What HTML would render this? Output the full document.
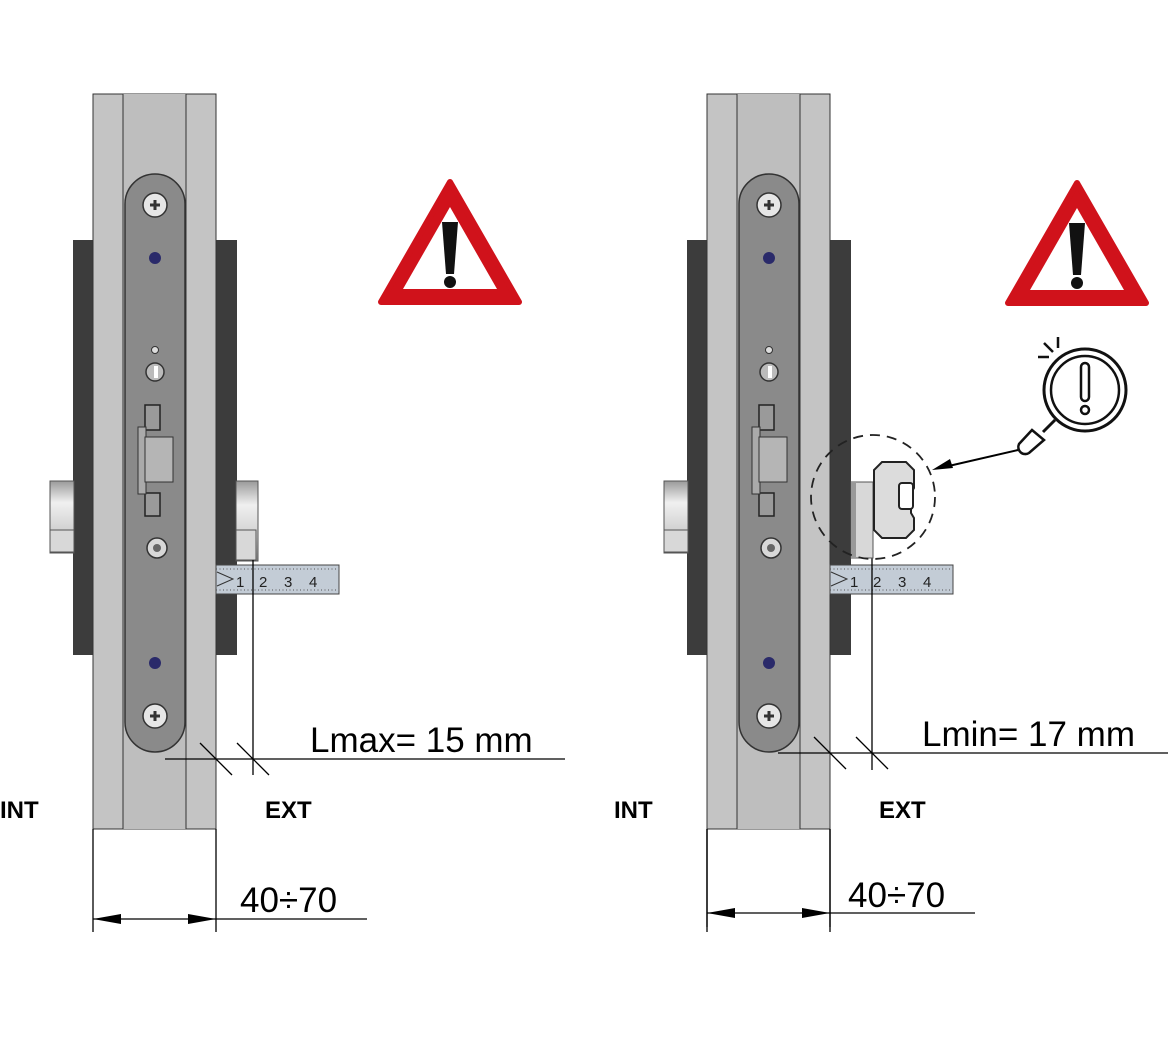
<!DOCTYPE html>
<html><head><meta charset="utf-8"><style>
html,body{margin:0;padding:0;background:#fff;}
svg{display:block;}
text{font-family:"Liberation Sans",Arial,sans-serif;}
</style></head><body>
<svg width="1170" height="1043" viewBox="0 0 1170 1043" xmlns="http://www.w3.org/2000/svg">
<defs>
<linearGradient id="cyl" x1="0" y1="0" x2="0" y2="1">
<stop offset="0" stop-color="#9a9a9a"/><stop offset="0.3" stop-color="#f0f0f0"/><stop offset="0.7" stop-color="#d0d0d0"/><stop offset="1" stop-color="#8a8a8a"/>
</linearGradient>
<g id="panel">
  <rect x="73" y="240" width="164" height="415" fill="#3c3c3c"/>
  <rect x="50" y="481" width="24" height="72" fill="url(#cyl)" stroke="#555" stroke-width="1"/>
  <rect x="50" y="530" width="24" height="22" fill="#d8d8d8" stroke="#555" stroke-width="1"/>
  <rect x="93" y="94" width="123" height="735" fill="#c4c4c4" stroke="#333" stroke-width="1"/>
  <rect x="123" y="94" width="63" height="735" fill="#bebebe"/>
  <line x1="123" y1="94" x2="123" y2="829" stroke="#333" stroke-width="1"/>
  <line x1="186" y1="94" x2="186" y2="829" stroke="#333" stroke-width="1"/>
  <rect x="125" y="174" width="60" height="578" rx="30" fill="#8a8a8a" stroke="#333" stroke-width="1.5"/>
  <circle cx="155" cy="205" r="12" fill="#e6e6e6" stroke="#333" stroke-width="1.5"/>
  <path d="M150 205h10M155 200v10" stroke="#333" stroke-width="3"/>
  <circle cx="155" cy="258" r="6" fill="#2a2a6a"/>
  <circle cx="155" cy="350" r="3.5" fill="#ddd" stroke="#333"/>
  <circle cx="155" cy="372" r="9" fill="#bbb" stroke="#333" stroke-width="1.5"/>
  <rect x="154" y="366" width="4" height="12" fill="#fff"/>
  <rect x="145" y="405" width="15" height="25" fill="#9a9a9a" stroke="#222" stroke-width="1.5"/>
  <rect x="145" y="493" width="15" height="23" fill="#9a9a9a" stroke="#222" stroke-width="1.5"/>
  <rect x="138" y="427" width="8" height="67" fill="#aaa" stroke="#333"/>
  <rect x="145" y="437" width="28" height="45" fill="#b5b5b5" stroke="#333"/>
  <circle cx="157" cy="548" r="10" fill="#d8d8d8" stroke="#333" stroke-width="1.5"/>
  <circle cx="157" cy="548" r="4" fill="#666"/>
  <circle cx="155" cy="663" r="6" fill="#2a2a6a"/>
  <circle cx="155" cy="716" r="12" fill="#e6e6e6" stroke="#333" stroke-width="1.5"/>
  <path d="M150 716h10M155 711v10" stroke="#333" stroke-width="3"/>
  <rect x="216" y="565" width="123" height="29" fill="#c3ccd6" stroke="#444" stroke-width="1"/>
  <path d="M216 569h123M216 590h123" stroke="#555" stroke-width="1" stroke-dasharray="1 2.5"/>
  <path d="M217 572l16 7l-16 7" fill="none" stroke="#333" stroke-width="1"/>
  <text x="236" y="587" font-size="15" fill="#222">1</text>
  <text x="259" y="587" font-size="15" fill="#222">2</text>
  <text x="284" y="587" font-size="15" fill="#222">3</text>
  <text x="309" y="587" font-size="15" fill="#222">4</text>
  <text x="0" y="818" font-size="24" font-weight="bold" fill="#000">INT</text>
  <text x="265" y="818" font-size="24" font-weight="bold" fill="#000">EXT</text>
  <line x1="93" y1="829" x2="93" y2="932" stroke="#000" stroke-width="1.3"/>
  <line x1="216" y1="829" x2="216" y2="932" stroke="#000" stroke-width="1.3"/>
</g>
<g id="warn">
  <path d="M450 182 L519 302 L381 302 Z" fill="#d0121b" stroke="#d0121b" stroke-width="6" stroke-linejoin="round"/>
  <path d="M450 207 L497 289 L403 289 Z" fill="#fff"/>
  <path d="M442 222 h16 l-4 52 h-8 z" fill="#111"/>
  <circle cx="450" cy="282" r="6" fill="#111"/>
</g>
</defs>

<use href="#panel"/>
<rect x="236" y="481" width="22" height="80" fill="url(#cyl)" stroke="#555" stroke-width="1"/>
<rect x="236" y="530" width="20" height="30" fill="#d8d8d8" stroke="#555" stroke-width="1"/>
<use href="#warn"/>
<line x1="253" y1="560" x2="253" y2="775" stroke="#000" stroke-width="1.3"/>
<line x1="165" y1="759" x2="565" y2="759" stroke="#000" stroke-width="1.3"/>
<line x1="200" y1="743" x2="232" y2="775" stroke="#000" stroke-width="1.3"/>
<line x1="237" y1="743" x2="269" y2="775" stroke="#000" stroke-width="1.3"/>
<text x="310" y="752" font-size="35" fill="#000">Lmax= 15 mm</text>
<line x1="93" y1="919" x2="367" y2="919" stroke="#000" stroke-width="1.3"/>
<path d="M93 919l28-5v10z M216 919l-28-5v10z" fill="#000"/>
<text x="240" y="912" font-size="35" fill="#000">40÷70</text>

<g transform="translate(614,0)"><use href="#panel"/></g>
<g transform="translate(627,1)"><use href="#warn"/></g>
<line x1="872" y1="540" x2="872" y2="770" stroke="#000" stroke-width="1.3"/>
<line x1="778" y1="753" x2="1168" y2="753" stroke="#000" stroke-width="1.3"/>
<line x1="814" y1="737" x2="846" y2="769" stroke="#000" stroke-width="1.3"/>
<line x1="856" y1="737" x2="888" y2="769" stroke="#000" stroke-width="1.3"/>
<text x="922" y="746" font-size="35" fill="#000">Lmin= 17 mm</text>
<line x1="707" y1="829" x2="707" y2="927" stroke="#000" stroke-width="1.3"/>
<line x1="830" y1="829" x2="830" y2="927" stroke="#000" stroke-width="1.3"/>
<line x1="707" y1="913" x2="975" y2="913" stroke="#000" stroke-width="1.3"/>
<path d="M707 913l28-5v10z M830 913l-28-5v10z" fill="#000"/>
<text x="848" y="907" font-size="35" fill="#000">40÷70</text>
<rect x="851" y="482" width="22" height="76" fill="#d8d8d8" stroke="#555"/>
<rect x="851" y="482" width="5" height="76" fill="#999"/>
<path d="M882 462 h24 l8 8 v18 l-3 5 v20 l3 5 v12 l-8 8 h-24 l-8 -8 v-60 z" fill="#dcdcdc" stroke="#222" stroke-width="2"/>
<rect x="899" y="483" width="14" height="26" rx="3" fill="#fff" stroke="#222" stroke-width="2"/>
<circle cx="873" cy="497" r="62" fill="none" stroke="#222" stroke-width="1.8" stroke-dasharray="10 7"/>
<line x1="1018" y1="450" x2="940" y2="468" stroke="#000" stroke-width="2"/>
<path d="M932 470 l18 -11 l3 9 z" fill="#000"/>
<circle cx="1085" cy="390" r="41" fill="none" stroke="#111" stroke-width="3"/>
<circle cx="1085" cy="390" r="34" fill="none" stroke="#111" stroke-width="2.5"/>
<rect x="1081" y="363" width="8" height="38" rx="4" fill="none" stroke="#111" stroke-width="2.5"/>
<circle cx="1085" cy="410" r="4" fill="none" stroke="#111" stroke-width="2.5"/>
<path d="M1055 420 l-12 12" stroke="#111" stroke-width="3"/>
<path d="M1032 430 l12 10 l-15 13 a7 7 0 0 1 -10 -9 z" fill="#fff" stroke="#111" stroke-width="2.5"/>
<path d="M1044 343 l9 9 M1058 337 v11 M1038 357 h11" stroke="#111" stroke-width="2.5"/>
</svg>
</body></html>
